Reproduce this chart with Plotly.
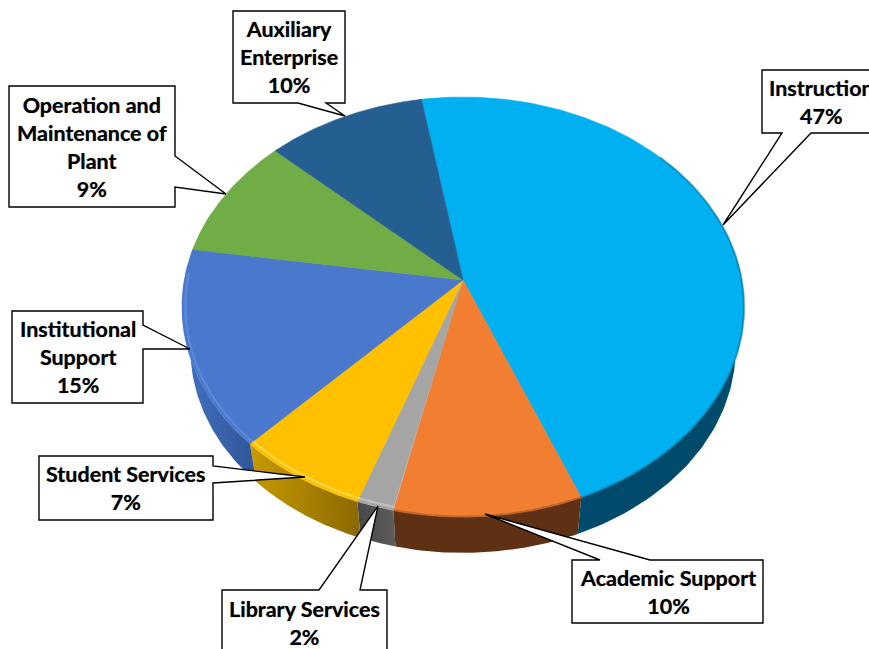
import numpy as np
import plotly.graph_objects as go

categories = ["Instruction", "Academic Support", "Library Services", "Student Services",
              "Institutional Support", "Operation and Maintenance of Plant", "Auxiliary Enterprise"]
values = [46.6, 9.6, 1.9, 6.8, 15.2, 9.5, 10.4]
percent_labels = ["47%", "10%", "2%", "7%", "15%", "9%", "10%"]
label_lines = [["Instruction"], ["Academic Support"], ["Library Services"], ["Student Services"],
               ["Institutional", "Support"], ["Operation and", "Maintenance of", "Plant"],
               ["Auxiliary", "Enterprise"]]
top_colors = ["#00b0f0", "#f27e32", "#a5a5a5", "#ffc000", "#4a78cc", "#70ad47", "#255e91"]
rim_colors = ["#00678f", "#9a5222", "#d4d4d4", "#ffe368", "#6f9be8", "#70ad47", "#255e91"]
side_left = ["#004a6c", "#5f3114", "#484848", "#c79a00", "#4472c4", "#70ad47", "#255e91"]
side_right = ["#004a6c", "#5f3114", "#5c5c5c", "#8a6900", "#2f5597", "#70ad47", "#255e91"]
rim_scale = [1.0, 0.999, 0.985, 0.985, 0.988, 1.0, 1.0]
rim_opacity = [0.45, 0.55, 0.6, 0.7, 0.5, 0.0, 0.0]

# Layout of the callouts: box (x0, y0, x1, y1), pointer base a, pointer base b, tip
callouts = [
    ((762, 70, 880, 133), (782, 133), (811, 133), (723, 225)),
    ((572, 560, 763, 623), (650, 560), (600, 560), (485, 514)),
    ((222, 590, 387, 655), (319, 590), (360, 590), (378, 506)),
    ((39, 456, 213, 520), (213, 466), (213, 483), (305, 477)),
    ((12, 311, 143, 403), (143, 325), (143, 349), (190, 349)),
    ((9, 86, 175, 207), (175, 156), (175, 187), (226, 194)),
    ((233, 11, 345, 103), (298, 103), (326, 103), (345, 116)),
]

# Projection of the tilted disc
CX, CY = 463.0, 280.0
A, B, K = 278.7, 206.5, 0.1286
LOWER_SCALE, LOWER_CY = 0.97, 323.0
START = -9.7


def project(deg):
    t = np.radians(deg)
    X, Y = np.sin(t), np.cos(t)
    w = 1 + K * Y
    return CX + A * X / w, CY - B * Y / w


def lower(x, y):
    return CX + LOWER_SCALE * (x - CX), LOWER_CY + LOWER_SCALE * (y - CY)


fig = go.Figure()
edges = START + np.concatenate([[0], np.cumsum(values)]) * 360.0 / sum(values)

# side walls
for i in range(len(values)):
    lo, hi = max(edges[i], 70.0), min(edges[i + 1], 290.0)
    if hi <= lo:
        continue
    angles = np.linspace(lo, hi, 80)
    x, y = project(angles)
    xl, yl = lower(x, y)
    fig.add_trace(go.Scatter(
        x=np.r_[x, xl[::-1]], y=np.r_[y, yl[::-1]],
        mode="lines", line=dict(width=0), fill="toself",
        fillgradient=dict(type="horizontal",
                          colorscale=[[0, side_left[i]], [1, side_right[i]]]),
        hoverinfo="skip", showlegend=False))

# top faces
for i in range(len(values)):
    angles = np.linspace(edges[i], edges[i + 1], 160)
    x, y = project(angles)
    fig.add_trace(go.Scatter(
        x=np.r_[CX, x, CX], y=np.r_[CY, y, CY],
        mode="lines", line=dict(width=0.6, color=top_colors[i]),
        fill="toself", fillcolor=top_colors[i],
        name=categories[i], hoverinfo="name", showlegend=False))

# soft edge along the front rim
for i in range(len(values)):
    if rim_opacity[i] == 0:
        continue
    lo, hi = max(edges[i], 50.0), min(edges[i + 1], 272.0)
    if hi <= lo:
        continue
    x, y = project(np.linspace(lo, hi, 100))
    s = rim_scale[i]
    fig.add_trace(go.Scatter(x=CX + s * (x - CX), y=CY + s * (y - CY), mode="lines",
                             line=dict(width=2.2, color=rim_colors[i]),
                             opacity=rim_opacity[i], hoverinfo="skip", showlegend=False))

shapes = []
annotations = []
for i, (box, a, b, tip) in enumerate(callouts):
    x0, y0, x1, y1 = box
    horizontal = a[1] == b[1]
    if horizontal and a[1] == y0:
        pts = [(x0, y0), a, tip, b, (x1, y0), (x1, y1), (x0, y1)] if a[0] < b[0] else \
              [(x0, y0), b, tip, a, (x1, y0), (x1, y1), (x0, y1)]
    elif horizontal:
        pts = [(x0, y0), (x1, y0), (x1, y1), b, tip, a, (x0, y1)]
    else:
        pts = [(x0, y0), (x1, y0), a, tip, b, (x1, y1), (x0, y1)]
    path = "M " + " L ".join(f"{px} {py}" for px, py in pts) + " Z"
    shapes.append(dict(type="path", path=path, xref="x", yref="y", layer="above",
                       fillcolor="white", line=dict(color="black", width=1.4)))
    lines = label_lines[i] + [percent_labels[i]]
    annotations.append(dict(
        x=(x0 + x1) / 2, y=(y0 + y1) / 2 if y1 < 649 else y0 + 33,
        xref="x", yref="y", text="<br>".join(lines), showarrow=False,
        xanchor="center", yanchor="middle", align="center",
        font=dict(family="Lato", size=21.5, color="#000000", weight="bold",
                  shadow="0 0 1px rgba(0,0,0,0.55)")))

fig.update_layout(
    width=869, height=649, margin=dict(l=0, r=0, t=0, b=0),
    paper_bgcolor="white", plot_bgcolor="white",
    xaxis=dict(range=[0, 869], visible=False, fixedrange=True),
    yaxis=dict(range=[649, 0], visible=False, fixedrange=True),
    shapes=shapes, annotations=annotations, showlegend=False,
)
fig.write_html("out.html", config={"displayModeBar": False},
               post_script="document.body.style.margin='0';")
